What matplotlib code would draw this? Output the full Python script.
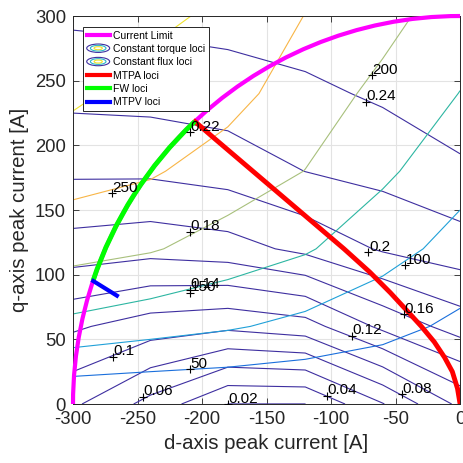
import numpy as np
import matplotlib.pyplot as plt
from matplotlib.patches import Arc, Ellipse, Patch
from matplotlib.lines import Line2D
from matplotlib.legend_handler import HandlerBase

plt.rcParams['font.family'] = ['Liberation Sans', 'DejaVu Sans']
plt.rcParams['axes.unicode_minus'] = False

# map grid (A)
id_grid = [-300, -240, -180, -120, -60, 0]
iq_grid = [0, 60, 120, 180, 240, 300]

# torque map, rows follow iq_grid, columns follow id_grid
torque = [
    [0.0835, 0.0535, 0.0199, 0.0199, 0.059, 0.105],
    [0.123, 0.1102, 0.1043, 0.1114, 0.1447, 0.169],
    [0.1717, 0.1672, 0.1718, 0.1852, 0.2023, 0.2114],
    [0.2033, 0.2036, 0.2088, 0.2202, 0.2262, 0.2358],
    [0.2256, 0.2271, 0.2303, 0.2356, 0.243, 0.2545],
    [0.2432, 0.245, 0.2474, 0.2511, 0.255, 0.2585],
]
# flux map, same layout
flux = [
    [2, 0, 0, 0, 0, 0],
    [137, 120, 105.4, 86.8, 65.4, 40],
    [218, 204.3, 179.3, 155.1, 118.75, 82.9],
    [268.7, 255.5, 227.3, 199.3, 159.3, 117.1],
    [309, 282, 267, 224.7, 187.7, 149],
    [350, 311, 290, 249, 215, 175],
]

torque_levels = [0.02, 0.04, 0.06, 0.08, 0.10, 0.12, 0.14, 0.16, 0.18, 0.20, 0.22, 0.24]
flux_levels = [50, 100, 150, 200, 250, 300]
flux_colors = ['#1a6fdc', '#20a0d8', '#2db6a2', '#a8c07c', '#f8b546', '#eee22c']
torque_color = '#3e2fa0'

# contour label spots (id, iq, text)
torque_lab_id = [-245.7, -180, -103.3, -45.2, -269, -83.5, -209, -43.4, -209, -71, -209, -73]
torque_lab_iq = [5.6, 0, 6.4, 7.7, 36.6, 52.8, 88.5, 69.4, 133.3, 117.3, 210, 233.8]
torque_lab_txt = ['0.06', '0.02', '0.04', '0.08', '0.1', '0.12', '0.14', '0.16', '0.18', '0.2', '0.22', '0.24']
flux_lab_id = [-209, -42.6, -209, -68.5, -270]
flux_lab_iq = [27, 107.5, 86, 254.4, 163]
flux_lab_txt = ['50', '100', '150', '200', '250']

i_max = 300
mtpa_id = [0, -2, -6, -12, -20, -30, -41, -54, -70, -90, -110, -130, -150, -170, -190, -205.4]
mtpa_iq = [0, 12, 25, 36, 48, 60, 72, 86, 102, 120, 137, 154, 171, 188, 205, 218.3]
fw_start = (-205.4, 218.3)
fw_end = (-284.3, 95.1)
mtpv_id = [-284.3, -266]
mtpv_iq = [95.1, 83.8]


class EllipseIcon(HandlerBase):
    def legend_artist(self, legend, orig_handle, fontsize, handlebox):
        w, h = handlebox.width, handlebox.height
        cx = w / 2 - handlebox.xdescent
        cy = h / 2 - handlebox.ydescent
        last = None
        for k, c in zip([1.0, 0.68, 0.36], [torque_color, '#2db6c8', '#eee22c']):
            last = Ellipse((cx, cy), w * k, h * 1.15 * k, fill=False, edgecolor=c,
                           lw=0.8, transform=handlebox.get_transform())
            handlebox.add_artist(last)
        return last


fig = plt.figure(figsize=(4.63, 4.63), dpi=100)
ax = fig.add_axes([0.1577, 0.1274, 0.836, 0.838])

ax.contour(id_grid, iq_grid, torque, levels=torque_levels, colors=torque_color, linewidths=0.8)
ax.contour(id_grid, iq_grid, flux, levels=flux_levels, colors=flux_colors, linewidths=0.8)

ax.plot(torque_lab_id + flux_lab_id, torque_lab_iq + flux_lab_iq, '+', color='black',
        ms=6, mew=0.8, zorder=5)
for x, y, s in zip(torque_lab_id + flux_lab_id, torque_lab_iq + flux_lab_iq,
                   torque_lab_txt + flux_lab_txt):
    ax.annotate(s, (x, y), xytext=(0.3, 1.0), textcoords='offset points',
                ha='left', va='baseline', fontsize=11, zorder=6)

ax.add_patch(Arc((0, 0), 2 * i_max, 2 * i_max, theta1=90, theta2=180,
                 color='#ff00ff', lw=3, clip_on=False, zorder=3))
ax.plot(mtpa_id, mtpa_iq, color='#ff0000', lw=3.5, zorder=4, solid_joinstyle='round')
a1 = np.degrees(np.arctan2(fw_start[1], fw_start[0]))
a2 = np.degrees(np.arctan2(fw_end[1], fw_end[0]))
ax.add_patch(Arc((0, 0), 2 * i_max, 2 * i_max, theta1=a1, theta2=a2,
                 color='#00ff00', lw=3.5, zorder=4))
ax.plot(mtpv_id, mtpv_iq, color='#0000ff', lw=3, zorder=4)

ax.set_xlim(-300, 0)
ax.set_ylim(0, 300)
ax.set_xticks([-300, -250, -200, -150, -100, -50, 0])
ax.set_yticks([0, 50, 100, 150, 200, 250, 300])
ax.grid(True, color='#e3e3e3', lw=0.8)
ax.set_axisbelow(True)
ax.tick_params(direction='in', top=True, right=True, length=4, width=0.6,
               labelsize=13.3, colors='#262626', pad=5)
for sp in ax.spines.values():
    sp.set_color('#262626')
    sp.set_linewidth(0.7)
ax.set_xlabel('d-axis peak current [A]', fontsize=14.7, color='#262626', labelpad=4)
ax.set_ylabel('q-axis peak current [A]', fontsize=14.7, color='#262626', labelpad=4)

torque_proxy = Patch(label='Constant torque loci')
flux_proxy = Patch(label='Constant flux loci')
handles = [
    Line2D([], [], color='#ff00ff', lw=3),
    torque_proxy,
    flux_proxy,
    Line2D([], [], color='#ff0000', lw=3),
    Line2D([], [], color='#00ff00', lw=3),
    Line2D([], [], color='#0000ff', lw=3),
]
labels = ['Current Limit', 'Constant torque loci', 'Constant flux loci',
          'MTPA loci', 'FW loci', 'MTPV loci']
leg = ax.legend(handles, labels, loc='upper left', bbox_to_anchor=(0.026, 0.972),
                borderaxespad=0, fontsize=7.5, handlelength=2.2, handletextpad=0.35,
                labelspacing=0.32, borderpad=0.35, fancybox=False, framealpha=1,
                edgecolor='#262626',
                handler_map={torque_proxy: EllipseIcon(), flux_proxy: EllipseIcon()})
leg.get_frame().set_linewidth(0.7)
leg.set_zorder(10)

fig.savefig('out.png', dpi=100)
